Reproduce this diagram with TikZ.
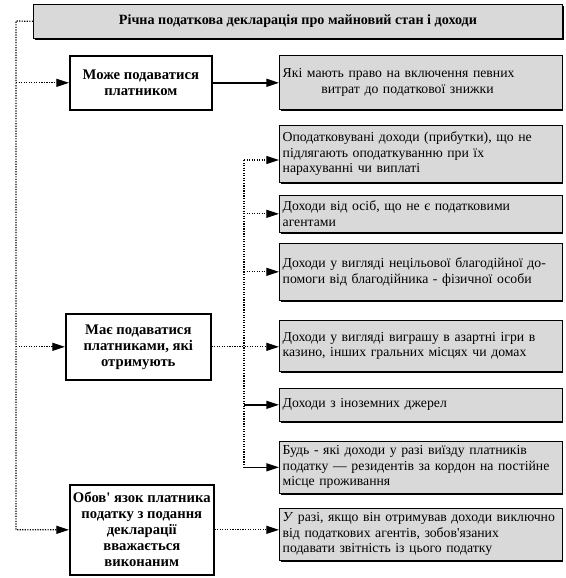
\documentclass[tikz,border=0pt]{standalone}
\usepackage{fontspec}
\setmainfont{Liberation Serif}
\usetikzlibrary{arrows.meta,shadows}
\definecolor{boxgray}{RGB}{217,217,217}
\begin{document}
\begin{tikzpicture}[x=0.75pt,y=-0.75pt,
  grayshape/.style={draw=black, line width=0.5pt, fill=boxgray,
    general shadow={fill=black, shadow xshift=1.1pt, shadow yshift=-1.1pt},
    rectangle, anchor=north west},
  graybox/.style={grayshape, inner xsep=2.5pt, inner ysep=0.5pt,
    text width=207pt, align=left, font=\fontsize{10.3}{11.6}\selectfont},
  whitebox/.style={draw=black, line width=1.2pt, fill=white, rectangle,
    anchor=north west, inner sep=0.5pt, align=center,
    font=\bfseries\fontsize{11}{12}\selectfont},
  conn/.style={line width=0.9pt, densely dotted},
  solidc/.style={line width=1.1pt},
  arr/.style={-{Triangle[length=9.5pt,width=6pt]}}
]
\path[use as bounding box, fill=white] (0,0) rectangle (566,578);

% title
\node[grayshape, align=center, minimum width=397pt, minimum height=25.5pt,
  font=\bfseries\fontsize{10.6}{12}\selectfont] (top) at (33,4)
  {Річна податкова декларація про майновий стан і доходи};

% left boxes
\node[whitebox, minimum width=106.5pt, minimum height=40.5pt] (mozhe) at (69,55)
  {Може подаватися\\платником};
\node[whitebox, minimum width=108.75pt, minimum height=49.5pt] (maie) at (65,313)
  {Має подаватися\\платниками, які\\отримують};
\node[whitebox, minimum width=108pt, minimum height=67.5pt] (obov) at (69,484)
  {Обов\textquotesingle\ язок платника\\податку з подання\\декларації\\вважається\\виконаним};

% right boxes
\node[graybox, minimum height=40.5pt] (yaki) at (279,55)
  {Які мають право на включення певних\\\hspace*{29pt}витрат до податкової знижки};
\node[graybox, minimum height=42.75pt] (b1) at (279,125)
  {Оподатковувані доходи (прибутки), що не\\підлягають оподаткуванню при їх\\нарахуванні чи виплаті};
\node[graybox, minimum height=27.75pt] (b2) at (279,195)
  {Доходи від осіб, що не є податковими\\агентами};
\node[graybox, minimum height=42.75pt] (b3) at (279,243)
  {Доходи у вигляді нецільової благодійної до-\\помоги від благодійника - фізичної особи};
\node[graybox, minimum height=38.25pt] (b4) at (279,320)
  {Доходи у вигляді виграшу в азартні ігри в\\казино, інших гральних місцях чи домах};
\node[graybox, minimum height=24.75pt] (b5) at (279,388)
  {Доходи з іноземних джерел};
\node[graybox, minimum height=39pt] (b6) at (279,441)
  {Будь - які доходи у разі виїзду платників\\податку — резидентів за кордон на постійне\\місце проживання};
\node[graybox, minimum height=39pt] (b7) at (279,508)
  {\textit{У} разі, якщо він отримував доходи виключно\\від податкових агентів, зобов\textquotesingle язаних\\подавати звітність із цього податку};

% left spine
\coordinate (L) at (16,21);
\draw[conn,arr] (top.west) -- (L) |- (obov.west);
\draw[conn,arr] (L |- mozhe.west) -- (mozhe.west);
\draw[conn,arr] (L |- maie.west) -- (maie.west);

% right spine
\coordinate (s1) at (244,160);
\coordinate (s2) at (s1 |- b2.west);
\coordinate (s3) at (s1 |- b3.west);
\coordinate (s5) at (s1 |- b5.west);
\coordinate (s6) at (s1 |- b6.west);
\draw[conn] (s1) -- (s6);
\draw[conn,arr] (s1) -- (s1 -| b1.west);
\draw[conn,arr] (s2) -- (b2.west);
\draw[conn,arr] (s3) -- (b3.west);
\draw[solidc,arr] (s5) -- (b5.west);
\draw[solidc,arr] (s6) -- (b6.west);

\draw[solidc,arr] (mozhe.east) -- (mozhe.east -| yaki.west);
\draw[conn,arr] (maie.east) -- (maie.east -| b4.west);
\draw[conn,arr] (obov.east) -- (obov.east -| b7.west);
\end{tikzpicture}
\end{document}
